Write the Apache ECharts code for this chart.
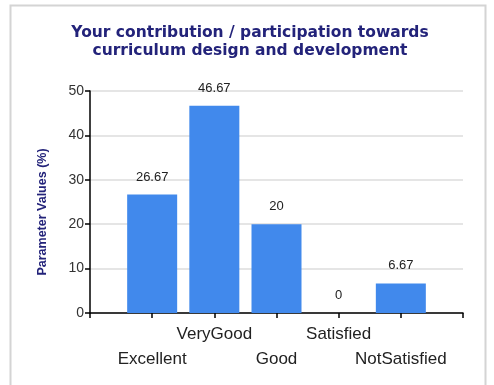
<!DOCTYPE html>
<html>
<head>
<meta charset="utf-8">
<script src="https://cdn.jsdelivr.net/npm/echarts@6/dist/echarts.min.js"></script>
<style>
  html, body { margin: 0; padding: 0; background: #fff; }
  #chart { width: 494px; height: 385px; }
</style>
</head>
<body>
<div id="chart"></div>
<script>
// Response categories (blank slots pad both ends of the axis)
const categories = ['', 'Excellent', 'VeryGood', 'Good', 'Satisfied', 'NotSatisfied', ''];
// Share of responses per category, in percent
const values = [null, 26.67, 46.67, 20, 0, 6.67, null];
// Y-axis scale
const yMin = 0, yMax = 50, yStep = 10;

const chart = echarts.init(document.getElementById('chart'), null, { renderer: 'canvas' });

const labelFont = 'Liberation Sans, Arial, sans-serif';
const navy = '#23237a';

chart.setOption({
  animation: false,
  backgroundColor: '#ffffff',
  graphic: [
    {
      type: 'polyline',
      shape: { points: [[10.5, 385], [10.5, 5.5], [485.5, 5.5], [485.5, 385]] },
      style: { stroke: '#d4d4d4', lineWidth: 2, fill: null },
      silent: true
    },
    {
      type: 'text',
      x: 43,
      y: 212,
      rotation: Math.PI / 2,
      style: {
        text: 'Parameter Values (%)',
        fontFamily: labelFont,
        fontWeight: 'bold',
        fontSize: 12.5,
        fill: navy,
        align: 'center',
        verticalAlign: 'middle'
      },
      silent: true
    }
  ],
  title: {
    text: 'Your contribution / participation towards\ncurriculum design and development',
    left: 245,
    textAlign: 'center',
    top: 19,
    textStyle: {
      fontFamily: 'DejaVu Sans, Verdana, sans-serif',
      fontWeight: 'bold',
      fontSize: 15.5,
      lineHeight: 18,
      color: navy
    }
  },
  grid: { left: 90, right: 31, top: 91, bottom: 72, containLabel: false },
  xAxis: {
    type: 'category',
    data: categories,
    boundaryGap: false,
    axisLine: { show: true, lineStyle: { color: '#000', width: 1.5 } },
    axisTick: { show: true, length: 5, lineStyle: { color: '#000', width: 1.5 } },
    axisLabel: {
      interval: 0,
      fontFamily: labelFont,
      fontSize: 17,
      color: '#222',
      margin: 9,
      lineHeight: 25,
      formatter: function (v, i) {
        if (!v) return '';
        return (i % 2 === 1) ? '\n' + v : v;
      },
      verticalAlign: 'top'
    },
    splitLine: { show: false }
  },
  yAxis: {
    type: 'value',
    min: yMin,
    max: yMax,
    interval: yStep,
    axisLine: { show: true, lineStyle: { color: '#000', width: 1.5 } },
    axisTick: { show: true, length: 5, lineStyle: { color: '#000', width: 1.5 } },
    axisLabel: {
      fontFamily: labelFont,
      fontSize: 14,
      color: '#333',
      margin: 6
    },
    splitLine: { show: true, lineStyle: { color: '#dcdcdc', width: 1.5 } }
  },
  series: [
    {
      type: 'bar',
      data: values,
      barWidth: 50,
      itemStyle: { color: '#4189ec' },
      label: {
        show: true,
        position: 'top',
        distance: 11,
        fontFamily: labelFont,
        fontSize: 13,
        color: '#222',
        formatter: function (p) { return p.value == null ? '' : String(p.value); }
      }
    }
  ]
});
</script>
</body>
</html>
